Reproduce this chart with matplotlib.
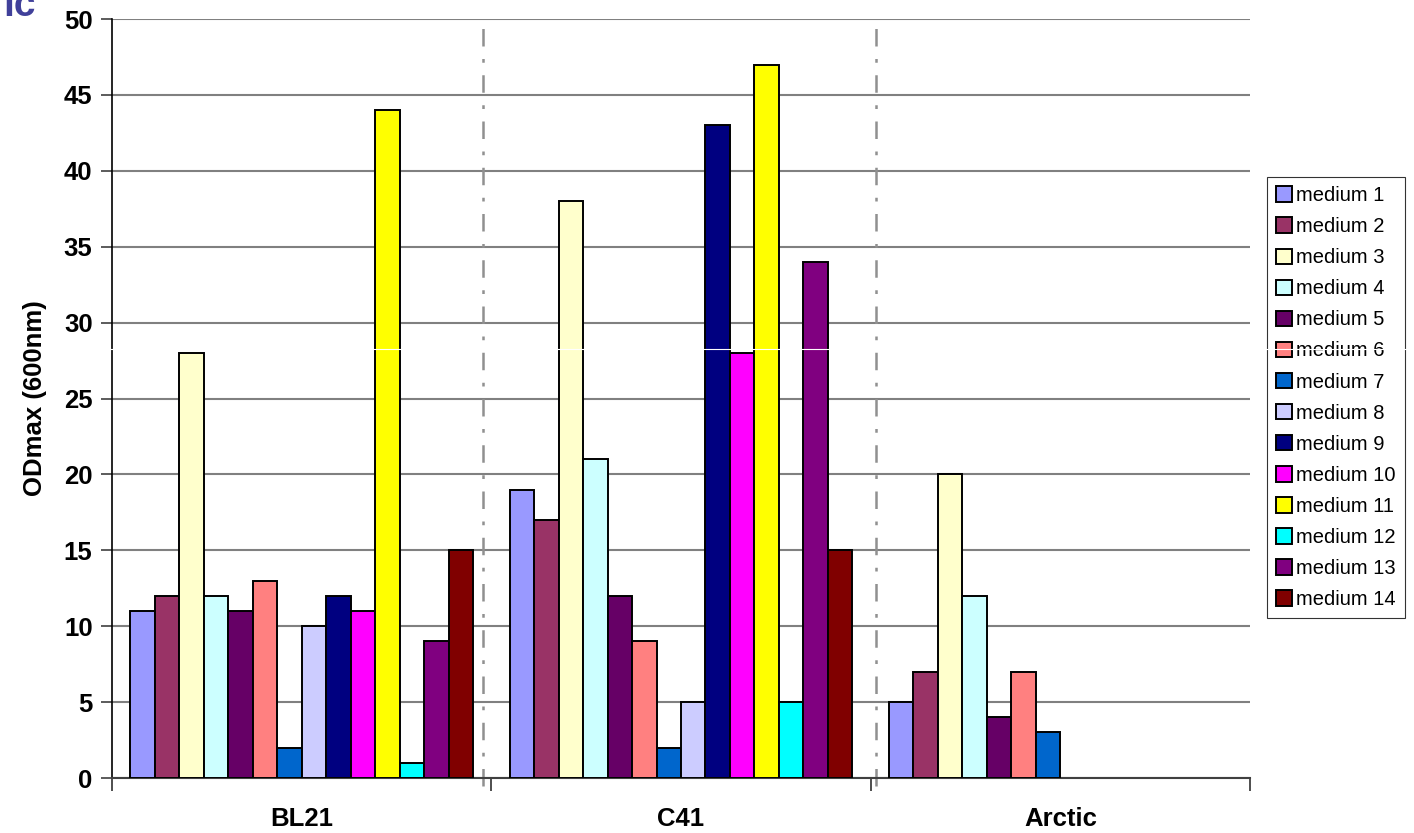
import matplotlib
matplotlib.use("Agg")
import matplotlib.pyplot as plt
from matplotlib.lines import Line2D
import numpy as np

# --------- Data ---------
strains = ["BL21", "C41", "Arctic"]
media = [f"medium {i}" for i in range(1, 15)]

bl21 = [11, 12, 28, 12, 11, 13, 2, 10, 12, 11, 44, 1, 9, 15]
c41 = [19, 17, 38, 21, 12, 9, 2, 5, 43, 28, 47, 5, 34, 15]
# no measurement for media 8-14 on Arctic
arctic = [5, 7, 20, 12, 4, 7, 3, None, None, None, None, None, None, None]

colors = ["#9999FF", "#993366", "#FFFFCC", "#CCFFFF", "#660066", "#FF8080",
          "#0066CC", "#CCCCFF", "#000080", "#FF00FF", "#FFFF00", "#00FFFF",
          "#800080", "#800000"]

yticks = list(range(0, 51, 5))
# ------------------------

plt.rcParams['font.family'] = ['Liberation Sans', 'DejaVu Sans']

W, H = 1414, 833
fig = plt.figure(figsize=(W / 100, H / 100), dpi=100)
ax = fig.add_axes([112 / W, 1 - 778 / H, (1250 - 112) / W, (778 - 19) / H])

n = len(media)
group_frac = 0.9035
bw = group_frac / n
x = np.arange(len(strains))

for i in range(n):
    for g, series in enumerate([bl21, c41, arctic]):
        v = series[i]
        if v is None:
            continue
        pos = x[g] - group_frac / 2 + bw * (i + 0.5)
        ax.bar(pos, v, width=bw, color=colors[i], edgecolor="black",
               linewidth=1.4, label=media[i] if g == 0 else None, zorder=3)

ax.set_xlim(-0.5, 2.5)
ax.set_ylim(0, 50)
ax.set_yticks(yticks)
ax.set_yticklabels([str(t) for t in yticks], fontsize=18.5, fontweight="bold")
ax.tick_params(axis="y", length=8, width=1.2, color="#404040", pad=6)

# group boundaries as ticks, labels in the middle
ax.set_xticks([-0.5, 0.5, 1.5, 2.5])
ax.set_xticklabels([])
ax.set_xticks(x, minor=True)
ax.set_xticklabels(strains, minor=True, fontsize=18.5, fontweight="bold")
ax.tick_params(axis="x", which="major", length=9, width=1.2, color="#303030")
ax.tick_params(axis="x", which="minor", length=0, pad=21)

ax.set_ylabel("ODmax (600nm)", fontsize=18.5, fontweight="bold", labelpad=12)

ax.yaxis.grid(True, color="#808080", linewidth=1.5, zorder=1)
ax.set_axisbelow(True)
for s in ["top", "right"]:
    ax.spines[s].set_visible(False)
ax.spines["left"].set_linewidth(1.2)
ax.spines["bottom"].set_color("#404040")
ax.spines["bottom"].set_linewidth(1.5)

# dash-dot separators between strains
for xs in [0.478, 1.514]:
    ax.plot([xs, xs], [-0.5, 50], color="#909090", linewidth=1.8,
            linestyle=(0, (7, 5, 1.5, 5)), clip_on=False, zorder=2)

leg = fig.legend(loc="upper left", bbox_to_anchor=(1267 / W, 1 - 177 / H),
                 fontsize=14.5, frameon=True, fancybox=False,
                 edgecolor="black", handlelength=0.8, handleheight=0.8,
                 handletextpad=0.2, labelspacing=0.6, borderpad=0.45,
                 borderaxespad=0)
leg.get_frame().set_linewidth(0.8)

# leftover title fragment at the top-left corner
fig.text(3 / W, 1 - 16 / H, "ic", fontsize=28, fontweight="bold",
         color="#40409A", va="baseline", ha="left")

# thin white scan line across the figure
fig.add_artist(Line2D([100 / W, 1], [1 - 349 / H] * 2, color="white",
                      linewidth=0.8, zorder=10))

fig.savefig("out.png", dpi=100)
